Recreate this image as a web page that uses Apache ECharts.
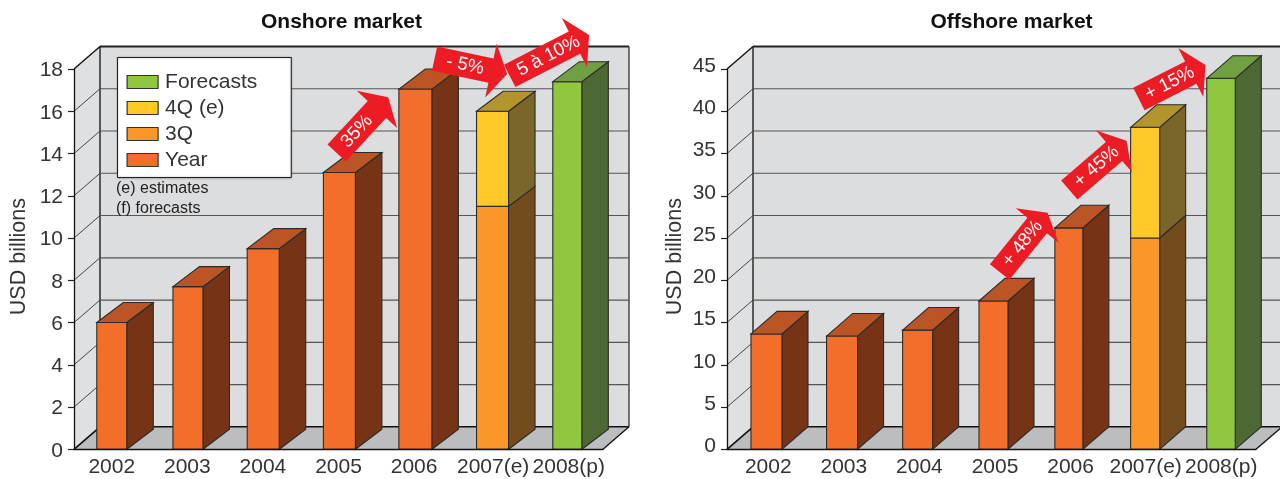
<!DOCTYPE html>
<html>
<head>
<meta charset="utf-8">
<style>html,body{margin:0;padding:0;background:#fff}#chart{width:1280px;height:479px}</style>
<script src="https://cdn.jsdelivr.net/npm/echarts@6/dist/echarts.min.js"></script>
</head>
<body>
<div id="chart"></div>
<script>
// Market size by year, USD billions
const categories = ['2002', '2003', '2004', '2005', '2006', '2007(e)', '2008(p)'];

const onshoreYear = [6.0, 7.7, 9.5, 13.1, 17.05, null, null];
const onshoreQ3 = [null, null, null, null, null, 11.5, null];
const onshoreQ4 = [null, null, null, null, null, 4.5, null];
const onshoreForecast = [null, null, null, null, null, null, 17.4];

const offshoreYear = [13.65, 13.4, 14.1, 17.55, 26.2, null, null];
const offshoreQ3 = [null, null, null, null, null, 25.0, null];
const offshoreQ4 = [null, null, null, null, null, 13.1, null];
const offshoreForecast = [null, null, null, null, null, null, 43.9];

const onshoreTicks = [0, 2, 4, 6, 8, 10, 12, 14, 16, 18];
const offshoreTicks = [0, 5, 10, 15, 20, 25, 30, 35, 40, 45];

// Growth arrows: label, then tail and tip as [category position, value]
const onshoreArrowLabels = ['35%', '- 5%', '5 à 10%'];
const onshoreArrowTails = [[2.976, 14.02], [4.271, 18.49], [5.265, 17.67]];
const onshoreArrowTips = [[3.657, 16.66], [5.231, 17.76], [6.316, 19.61]];
const offshoreArrowLabels = ['+ 48%', '+ 45%', '+ 15%'];
const offshoreArrowTails = [[3.108, 20.98], [4.030, 30.68], [4.950, 41.45]];
const offshoreArrowTips = [[3.742, 28.0], [4.787, 36.52], [5.832, 45.47]];

const legendNames = ['Forecasts', '4Q (e)', '3Q', 'Year'];

const FONT = '"Liberation Sans", Arial, sans-serif';
const INK = '#2b2b2b';
const TEXT = '#333333';
const WALL_DEPTH = [26, 22.5];

const palette = {
  'Year': { front: '#F36F29', side: '#773315', top: '#BC5526' },
  '3Q': { front: '#F99728', side: '#744B1C', top: '#B3952E' },
  '4Q (e)': { front: '#FFCA28', side: '#7A652B', top: '#B3952E' },
  'Forecasts': { front: '#8FC741', side: '#4D6832', top: '#70A042' }
};

function poly(points, fill, stroke, width) {
  return {
    type: 'polygon',
    shape: { points },
    style: { fill, stroke: stroke || null, lineWidth: width || 0 }
  };
}

function line(a, b, stroke, width) {
  return {
    type: 'line',
    shape: { x1: a[0], y1: a[1], x2: b[0], y2: b[1] },
    style: { stroke, lineWidth: width }
  };
}

// Floor, back wall, side wall and the gridlines that run across them
function wallSeries(gridIndex, ticks) {
  const top = ticks[ticks.length - 1];
  return {
    type: 'custom',
    xAxisIndex: gridIndex,
    yAxisIndex: gridIndex,
    z: 1,
    silent: true,
    data: ticks.map((t) => [0, t]),
    encode: { x: 0, y: 1 },
    renderItem(params, api) {
      const half = api.size([1, 0])[0] / 2;
      const first = api.coord([0, api.value(1)]);
      const last = api.coord([categories.length - 1, api.value(1)]);
      const [dx, dy] = WALL_DEPTH;
      const xL = first[0] - half;
      const xR = last[0] + half;
      const y = first[1];
      const children = [];
      if (params.dataIndex === 0) {
        const yTop = api.coord([0, top])[1];
        children.push(poly([[xL + dx, yTop - dy], [xR + dx, yTop - dy], [xR + dx, y - dy], [xL + dx, y - dy]], '#DCDDDF'));
        children.push(poly([[xL, yTop], [xL + dx, yTop - dy], [xL + dx, y - dy], [xL, y]], '#DFE0E2'));
        children.push(poly([[xL, y], [xL + dx, y - dy], [xR + dx, y - dy], [xR, y]], '#BCBDBF'));
        children.push(line([xL + dx, yTop - dy], [xL + dx, y - dy], '#1f1f1f', 1.4));
        children.push(line([xR + dx, yTop - dy], [xR + dx, y - dy], '#1f1f1f', 1.2));
        children.push(line([xL, yTop], [xL + dx, yTop - dy], '#111111', 1.4));
        children.push(line([xL, y], [xL + dx, y - dy], '#111111', 1.6));
        children.push(line([xR, y], [xR + dx, y - dy], '#111111', 1.3));
        children.push(line([xL + dx, y - dy], [xR + dx, y - dy], '#111111', 1.4));
      } else {
        const isTop = api.value(1) === top;
        children.push(line([xL + dx, y - dy], [xR + dx, y - dy], isTop ? '#222222' : '#555555', isTop ? 1.8 : 1.2));
        if (!isTop) children.push(line([xL, y], [xL + dx, y - dy], '#333333', 0.9));
      }
      return { type: 'group', children };
    }
  };
}

// One stacked block of a 3D column: data is [category, upper value, lower value]
function barSeries(gridIndex, name, uppers, lowers, scene) {
  const colours = palette[name];
  return {
    type: 'custom',
    name,
    xAxisIndex: gridIndex,
    yAxisIndex: gridIndex,
    z: 3,
    itemStyle: { color: colours.front },
    data: uppers.map((v, i) => [i, v, lowers ? lowers[i] : 0]),
    encode: { x: 0, y: 1 },
    renderItem(params, api) {
      const upper = api.value(1);
      if (isNaN(upper)) return null;
      const base = api.value(2) || 0;
      const index = api.value(0);
      const c = api.coord([index, upper]);
      const b = api.coord([index, base]);
      const w = scene.barWidths[index];
      const x0 = c[0] - w / 2 + scene.barShifts[index];
      const x1 = x0 + w;
      const [dx, dy] = scene.depth;
      const children = [
        poly([[x1, c[1]], [x1 + dx, c[1] - dy], [x1 + dx, b[1] - dy], [x1, b[1]]], colours.side, INK, 1.1),
        poly([[x0, c[1]], [x1, c[1]], [x1, b[1]], [x0, b[1]]], colours.front, INK, 1.1)
      ];
      if (name !== '3Q') {
        children.push(poly([[x0, c[1]], [x0 + dx, c[1] - dy], [x1 + dx, c[1] - dy], [x1, c[1]]], colours.top, INK, 1.1));
      }
      return { type: 'group', children };
    }
  };
}

// Red block arrows with their rotated captions; captionAt is the caption's place along the arrow
function arrowSeries(gridIndex, labels, tails, tips, captionAt) {
  const BODY = 25, HEAD = 55, HEAD_LEN = 16.5;
  return {
    type: 'custom',
    xAxisIndex: gridIndex,
    yAxisIndex: gridIndex,
    z: 6,
    silent: true,
    data: labels.map((l, i) => [i, 0]),
    encode: { x: 0, y: 1 },
    renderItem(params, api) {
      const i = params.dataIndex;
      const band = api.size([1, 0])[0];
      const at = (p) => {
        const whole = Math.floor(p[0]);
        const q = api.coord([whole, p[1]]);
        return [q[0] + (p[0] - whole) * band, q[1]];
      };
      const T = at(tails[i]);
      const P = at(tips[i]);
      const len = Math.hypot(P[0] - T[0], P[1] - T[1]);
      const u = [(P[0] - T[0]) / len, (P[1] - T[1]) / len];
      const n = [-u[1], u[0]];
      const along = (d, side) => [T[0] + u[0] * d + n[0] * side, T[1] + u[1] * d + n[1] * side];
      const neck = len - HEAD_LEN;
      const points = [
        along(0, -BODY / 2), along(neck, -BODY / 2), along(neck, -HEAD / 2), P,
        along(neck, HEAD / 2), along(neck, BODY / 2), along(0, BODY / 2)
      ];
      const mid = along(len * captionAt[i], 0);
      return {
        type: 'group',
        children: [
          poly(points, '#ED1C24'),
          {
            type: 'text',
            x: mid[0],
            y: mid[1],
            rotation: -Math.atan2(u[1], u[0]),
            style: { text: labels[i], fill: '#ffffff', font: '18.5px ' + FONT, align: 'center', verticalAlign: 'middle' }
          }
        ]
      };
    }
  };
}

function sceneSeries(gridIndex, ticks, year, q3, q4, forecast, scene, labels, tails, tips, captionAt) {
  const q4Upper = q4.map((v, i) => (v === null ? null : q3[i] + v));
  return [
    wallSeries(gridIndex, ticks),
    barSeries(gridIndex, 'Year', year, null, scene),
    barSeries(gridIndex, '3Q', q3, null, scene),
    barSeries(gridIndex, '4Q (e)', q4Upper, q3, scene),
    barSeries(gridIndex, 'Forecasts', forecast, null, scene),
    arrowSeries(gridIndex, labels, tails, tips, captionAt)
  ];
}

// plainPad applies to the year labels, markedPad to the labels ending in (e) or (p)
function xAxisFor(gridIndex, plainPad, markedPad) {
  const labelStyle = { color: TEXT, fontFamily: FONT, fontSize: 21 };
  return {
    type: 'category',
    gridIndex,
    data: categories,
    z: 5,
    axisLine: { lineStyle: { color: '#111111', width: 1.3 } },
    axisTick: { alignWithLabel: false, length: 6, lineStyle: { color: '#111111', width: 1.3 } },
    axisLabel: {
      color: TEXT,
      margin: 7,
      interval: 0,
      hideOverlap: false,
      formatter: (value) => (value.includes('(') ? '{marked|' + value + '}' : '{plain|' + value + '}'),
      rich: {
        plain: { ...labelStyle, padding: [0, 0, 0, plainPad] },
        marked: { ...labelStyle, padding: [0, 0, 0, markedPad] }
      }
    },
    splitLine: { show: false }
  };
}

function yAxisFor(gridIndex, ticks, nameGap, labelPad) {
  return {
    type: 'value',
    gridIndex,
    min: ticks[0],
    max: ticks[ticks.length - 1],
    interval: ticks[1] - ticks[0],
    z: 5,
    name: 'USD billions',
    nameLocation: 'middle',
    nameGap,
    nameRotate: 90,
    nameTextStyle: { color: TEXT, fontFamily: FONT, fontSize: 21.5, padding: [0, 0, 0, 5] },
    axisLine: { show: true, lineStyle: { color: '#111111', width: 1.3 } },
    axisTick: { show: true, length: 6, lineStyle: { color: '#222222', width: 1.2 } },
    axisLabel: {
      color: TEXT,
      margin: 11,
      showMinLabel: true,
      showMaxLabel: true,
      formatter: (value) => '{v|' + value + '}',
      rich: { v: { color: TEXT, fontFamily: FONT, fontSize: 21, padding: labelPad } }
    },
    splitLine: { show: false }
  };
}

const option = {
  animation: false,
  backgroundColor: '#ffffff',
  title: [
    { text: 'Onshore market', left: 341.5, top: 12, padding: 0, textAlign: 'center', textStyle: { color: '#111111', fontFamily: FONT, fontSize: 21, fontWeight: 'bold' } },
    { text: 'Offshore market', left: 1011.5, top: 12, padding: 0, textAlign: 'center', textStyle: { color: '#111111', fontFamily: FONT, fontSize: 21, fontWeight: 'bold' } }
  ],
  grid: [
    { left: 74, top: 69, width: 529, height: 380.3 },
    { left: 727, top: 69, width: 529, height: 380.3 }
  ],
  xAxis: [xAxisFor(0, 0, 7), xAxisFor(1, 7, 6)],
  yAxis: [yAxisFor(0, onshoreTicks, 44, [3, 0, 0, 0]), yAxisFor(1, offshoreTicks, 41, [0, 0, 6, 0])],
  legend: {
    data: legendNames,
    orient: 'vertical',
    left: 117.5,
    top: 57.5,
    padding: [14, 34, 7, 9],
    itemWidth: 31,
    itemHeight: 13,
    itemGap: 5,
    icon: 'rect',
    selectedMode: false,
    z: 8,
    backgroundColor: '#ffffff',
    borderColor: '#222222',
    borderWidth: 1,
    shadowColor: 'rgba(0,0,0,0.35)',
    shadowBlur: 2,
    itemStyle: { borderColor: '#333333', borderWidth: 1.2 },
    textStyle: { color: TEXT, fontFamily: FONT, fontSize: 21, padding: [0, 0, 0, 2] }
  },
  graphic: [
    { type: 'text', left: 116, top: 181, z: 8, style: { text: '(e) estimates', fill: '#222222', font: '16px ' + FONT } },
    { type: 'text', left: 116, top: 201, z: 8, style: { text: '(f) forecasts', fill: '#222222', font: '16px ' + FONT } }
  ],
  series: [
    ...sceneSeries(0, onshoreTicks, onshoreYear, onshoreQ3, onshoreQ4, onshoreForecast,
      { barWidths: [30, 30, 32, 32, 33, 32, 29], barShifts: [0, 0.6, 0.3, 0.9, 1.3, 2.9, 2.1], depth: [26.5, 20] },
      onshoreArrowLabels, onshoreArrowTails, onshoreArrowTips, [0.39, 0.42, 0.49]),
    ...sceneSeries(1, offshoreTicks, offshoreYear, offshoreQ3, offshoreQ4, offshoreForecast,
      { barWidths: [31, 31, 30, 29, 28, 29, 28.5], barShifts: [1.7, 1.7, 1.7, 2, 1.8, 2.5, 2.8], depth: [26, 22.6] },
      offshoreArrowLabels, offshoreArrowTails, offshoreArrowTips, [0.478, 0.475, 0.465])
  ]
};

const chart = echarts.init(document.getElementById('chart'), null, { renderer: 'canvas' });
chart.setOption(option);
</script>
</body>
</html>
